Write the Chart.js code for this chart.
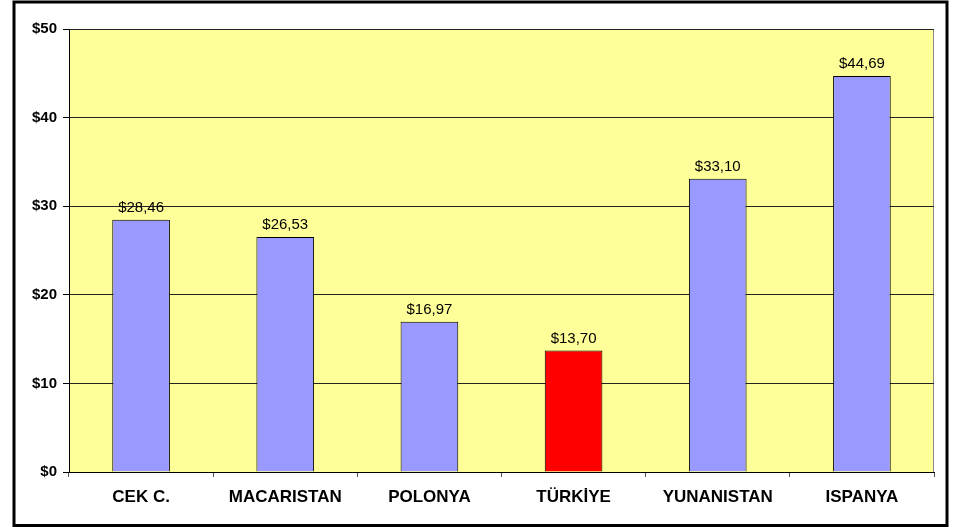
<!DOCTYPE html>
<html>
<head>
<meta charset="utf-8">
<script src="https://cdn.jsdelivr.net/npm/chart.js@4"></script>
<style>
  html, body { margin: 0; padding: 0; background: #fff; }
  #wrap { width: 953px; height: 527px; }
</style>
</head>
<body>
<div id="wrap"><canvas id="chart" width="953" height="527"></canvas></div>
<script>
const countries = ['CEK C.', 'MACARISTAN', 'POLONYA', 'TÜRKİYE', 'YUNANISTAN', 'ISPANYA'];
const prices = [28.46, 26.53, 16.97, 13.70, 33.10, 44.69];
const barColors = ['#9999FF', '#9999FF', '#9999FF', '#FF0000', '#9999FF', '#9999FF'];
const yTicks = [0, 10, 20, 30, 40, 50];

const FONT = '"Liberation Sans", Arial, sans-serif';

// fond jaune + cadre
const backdrop = {
    id: 'backdrop',
    beforeDraw(chart) {
        const { ctx, chartArea: a } = chart;
        ctx.save();
        ctx.fillStyle = '#fff';
        ctx.fillRect(0, 0, chart.width, chart.height);
        ctx.fillStyle = '#FFFF99';
        ctx.fillRect(a.left, a.top, a.right - a.left, a.bottom - a.top);
        ctx.strokeStyle = '#888';
        ctx.lineWidth = 1;
        ctx.beginPath();
        ctx.moveTo(a.left, a.top + 0.5);
        ctx.lineTo(a.right - 0.5, a.top + 0.5);
        ctx.lineTo(a.right - 0.5, a.bottom);
        ctx.stroke();
        ctx.restore();
    },
    afterDraw(chart) {
        const ctx = chart.ctx;
        ctx.save();
        ctx.strokeStyle = '#000';
        ctx.lineWidth = 3;
        ctx.strokeRect(14, 2, 933, 523.5);
        ctx.restore();
    }
};

// étiquettes de valeur au-dessus des barres
const valueLabels = {
    id: 'valueLabels',
    afterDatasetsDraw(chart) {
        const ctx = chart.ctx;
        const meta = chart.getDatasetMeta(0);
        ctx.save();
        ctx.fillStyle = '#000';
        ctx.font = '15px ' + FONT;
        ctx.textAlign = 'center';
        ctx.textBaseline = 'alphabetic';
        meta.data.forEach((bar, i) => {
            const txt = '$' + prices[i].toFixed(2).replace('.', ',');
            ctx.fillText(txt, bar.x, bar.y - 8);
        });
        ctx.restore();
    }
};

new Chart(document.getElementById('chart'), {
    type: 'bar',
    data: {
        labels: countries,
        datasets: [{
            data: prices,
            backgroundColor: barColors,
            borderColor: '#000',
            borderWidth: 1,
            categoryPercentage: 1,
            barPercentage: 0.4
        }]
    },
    options: {
        responsive: false,
        animation: false,
        layout: { padding: { top: 29, right: 19, left: 0, bottom: 0 } },
        plugins: {
            legend: { display: false },
            tooltip: { enabled: false }
        },
        scales: {
            x: {
                afterFit: s => { s.height = 55; },
                grid: {
                    drawOnChartArea: false,
                    drawTicks: true,
                    tickLength: 5,
                    tickColor: '#555',
                    offset: true
                },
                border: { color: '#000', width: 1 },
                ticks: {
                    color: '#000',
                    padding: 10,
                    font: { family: FONT, size: 17, weight: 'bold' }
                }
            },
            y: {
                min: 0,
                max: 50,
                afterFit: s => { s.width = 69; },
                afterBuildTicks: s => { s.ticks = yTicks.map(v => ({ value: v })); },
                grid: {
                    color: '#222',
                    tickLength: 6,
                    tickColor: '#000'
                },
                border: { color: '#000', width: 1 },
                ticks: {
                    color: '#000',
                    padding: 6,
                    font: { family: FONT, size: 15, weight: 'bold' },
                    callback: v => '$' + v
                }
            }
        }
    },
    plugins: [backdrop, valueLabels]
});
</script>
</body>
</html>
